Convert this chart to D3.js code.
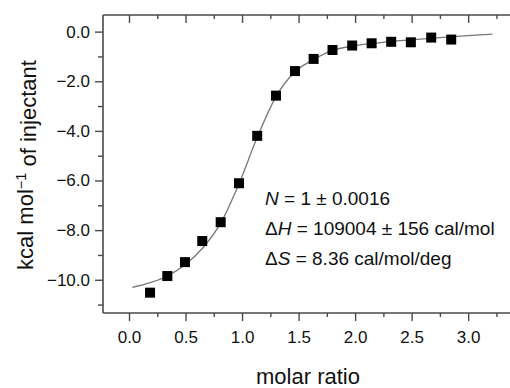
<!DOCTYPE html>
<html>
<head>
<meta charset="utf-8">
<script src="https://cdn.jsdelivr.net/npm/d3@7"></script>
<style>
  body { margin: 0; background: #fff; }
  svg { display: block; font-family: "Liberation Sans", Arial, sans-serif; }
</style>
</head>
<body>
<svg id="chart" width="510" height="388"></svg>
<script>
// Injection data (molar ratio vs heat)
const ratio = [0.186, 0.339, 0.495, 0.648, 0.811, 0.973, 1.134, 1.30, 1.468, 1.633,
               1.80, 1.974, 2.146, 2.319, 2.493, 2.673, 2.85];
const heat = [-10.52, -9.85, -9.29, -8.44, -7.68, -6.11, -4.20, -2.58, -1.59, -1.10,
              -0.74, -0.56, -0.47, -0.41, -0.43, -0.24, -0.32];

// Fitted curve
const fitRatio = [0.03, 0.186, 0.336, 0.495, 0.654, 0.813, 0.973, 1.136, 1.304, 1.468,
                  1.636, 1.80, 1.976, 2.148, 2.317, 2.493, 2.67, 2.847, 3.03, 3.215];
const fitHeat = [-10.31, -10.12, -9.86, -9.40, -8.71, -7.70, -6.13, -4.24, -2.59, -1.62,
                 -1.12, -0.76, -0.58, -0.48, -0.39, -0.33, -0.27, -0.21, -0.15, -0.10];

const xTicks = [0, 0.5, 1.0, 1.5, 2.0, 2.5, 3.0];
const yTicks = [0, -2, -4, -6, -8, -10];
const fitNotes = [
  [["N", true], [" = 1 ± 0.0016", false]],
  [["Δ", false], ["H", true], [" = 109004 ± 156 cal/mol", false]],
  [["Δ", false], ["S", true], [" = 8.36 cal/mol/deg", false]]
];

const svg = d3.select("#chart");
const m = {left: 103, right: 510, top: 15, bottom: 313};

const x = d3.scaleLinear().domain([-0.23, 3.37]).range([m.left, m.right]);
const y = d3.scaleLinear().domain([-11.34, 0.67]).range([m.bottom, m.top]);

const axisColor = "#4a4a4a";
const fmt = d3.format(".1f");
const minus = s => s.replace("-", "\u2212");

// Frame lines
svg.append("line").attr("x1", m.left).attr("x2", m.left).attr("y1", m.top).attr("y2", m.bottom)
  .attr("stroke", axisColor).attr("stroke-width", 1.6);
svg.append("line").attr("x1", m.left).attr("x2", m.right).attr("y1", m.bottom).attr("y2", m.bottom)
  .attr("stroke", axisColor).attr("stroke-width", 1.6);
svg.append("line").attr("x1", m.left).attr("x2", m.right).attr("y1", m.top).attr("y2", m.top)
  .attr("stroke", axisColor).attr("stroke-width", 1.6);

// Minor ticks
const xMinor = d3.range(0.25, 3.3, 0.5);
const yMinor = d3.range(-1, -11.5, -2);

// Bottom axis
svg.append("g").attr("transform", `translate(0,${m.bottom})`)
  .call(d3.axisBottom(x).tickValues(xTicks).tickFormat(fmt).tickSize(8).tickPadding(10))
  .select(".domain").remove();
svg.append("g").attr("transform", `translate(0,${m.bottom})`)
  .call(d3.axisBottom(x).tickValues(xMinor).tickFormat("").tickSize(4))
  .select(".domain").remove();

// Top axis (ticks pointing inward)
svg.append("g").attr("transform", `translate(0,${m.top})`)
  .call(d3.axisBottom(x).tickValues(xTicks).tickFormat("").tickSize(8))
  .select(".domain").remove();
svg.append("g").attr("transform", `translate(0,${m.top})`)
  .call(d3.axisBottom(x).tickValues(xMinor).tickFormat("").tickSize(4))
  .select(".domain").remove();

// Left axis
svg.append("g").attr("transform", `translate(${m.left},0)`)
  .call(d3.axisLeft(y).tickValues(yTicks).tickFormat(d => minus(fmt(d))).tickSize(8).tickPadding(5))
  .select(".domain").remove();
svg.append("g").attr("transform", `translate(${m.left},0)`)
  .call(d3.axisLeft(y).tickValues(yMinor).tickFormat("").tickSize(5))
  .select(".domain").remove();

svg.selectAll(".tick line").attr("stroke", axisColor).attr("stroke-width", 1.4);
svg.selectAll(".tick text").attr("fill", "#111").style("font-size", "17px")
  .style("font-family", "'Liberation Sans', Arial, sans-serif");

// Fit curve
const line = d3.line().x((d, i) => x(fitRatio[i])).y((d, i) => y(fitHeat[i]))
  .curve(d3.curveMonotoneX);
svg.append("path").datum(fitRatio).attr("d", line)
  .attr("fill", "none").attr("stroke", "#777").attr("stroke-width", 1.3);

// Data points
const sq = 10;
svg.append("g").selectAll("rect").data(ratio).join("rect")
  .attr("x", d => x(d) - sq / 2)
  .attr("y", (d, i) => y(heat[i]) - sq / 2)
  .attr("width", sq).attr("height", sq)
  .attr("fill", "#000");

// Fit results
const notes = svg.append("g").attr("fill", "#111").style("font-size", "19px");
fitNotes.forEach((parts, i) => {
  const t = notes.append("text").attr("x", 265).attr("y", 205 + i * 30);
  parts.forEach(([s, it]) => t.append("tspan").text(s).style("font-style", it ? "italic" : null));
});

// Axis titles
svg.append("text").attr("x", 308).attr("y", 384).attr("text-anchor", "middle")
  .style("font-size", "22px").attr("fill", "#111").text("molar ratio");

const yl = svg.append("text").attr("transform", "translate(33,165) rotate(-90)")
  .attr("text-anchor", "middle").style("font-size", "22px").attr("fill", "#111");
yl.append("tspan").text("kcal mol");
yl.append("tspan").text("\u22121").attr("dy", "-0.45em").style("font-size", "14.5px");
yl.append("tspan").text(" of injectant").attr("dy", "0.45em");
</script>
</body>
</html>
